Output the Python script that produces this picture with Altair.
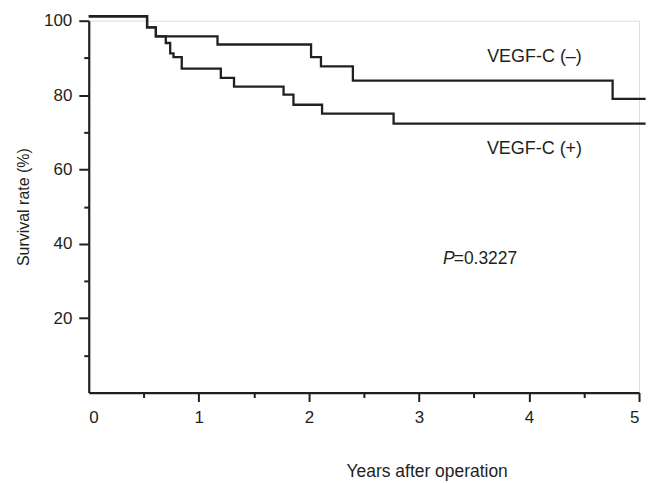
import altair as alt
import pandas as pd

# Kaplan-Meier style step data
t_neg = [0, 0.53, 0.61, 1.17, 2.02, 2.11, 2.40, 4.76, 5.06]
s_neg = [101.2, 98.2, 95.8, 93.6, 90.2, 87.7, 83.9, 79.0, 79.0]
t_pos = [0, 0.53, 0.61, 0.70, 0.74, 0.77, 0.845, 1.20, 1.32, 1.77, 1.86, 2.12, 2.77, 5.06]
s_pos = [101.2, 98.2, 95.8, 94.0, 91.2, 90.2, 87.1, 84.6, 82.3, 80.1, 77.4, 75.0, 72.3, 72.3]

x_major = [0, 1, 2, 3, 4, 5]
x_minor = [0.5, 1.5, 2.5, 3.5, 4.5]
y_major = [20, 40, 60, 80, 100]
y_minor = [10, 30, 50, 70, 90]

label_text = ["VEGF-C (–)", "VEGF-C (+)"]
label_x = [4.05, 4.05]
label_y = [90.2, 65.5]

p_x = [3.316]
p_y = [36.0]

FONT = "Liberation Sans"
INK = "#231f20"

curves = pd.DataFrame(
    {"t": t_neg + t_pos,
     "s": s_neg + s_pos,
     "g": ["neg"] * len(t_neg) + ["pos"] * len(t_pos)}
)
labels = pd.DataFrame({"text": label_text, "x": label_x, "y": label_y})
pdf = pd.DataFrame({"x": p_x, "y": p_y})

xscale = alt.Scale(domain=[0, 5], nice=False, zero=False)
yscale = alt.Scale(domain=[0, 100], nice=False, zero=False)

common_axis = dict(
    domainColor=INK, domainWidth=2.2, tickColor=INK, tickWidth=2,
    labelFont=FONT, labelFontSize=17, labelColor=INK,
    titleFont=FONT, titleColor=INK, titleFontWeight="normal",
    grid=False,
)

lines = alt.Chart(curves).mark_line(
    interpolate="step-after", color=INK, strokeWidth=2.3
).encode(
    x=alt.X("t:Q", scale=xscale, axis=alt.Axis(
        orient="bottom", values=x_major, tickSize=9, labelPadding=8,
        tickOpacity={"condition": {"test": "datum.value === 0", "value": 0}, "value": 1},
        title="Years after operation", titleFontSize=17.5,
        titleX=339, titleY=70, **common_axis)),
    y=alt.Y("s:Q", scale=yscale, axis=alt.Axis(
        orient="left", values=y_major, tickSize=10, labelPadding=7,
        title="Survival rate (%)", titleFontSize=16, titlePadding=12,
        **common_axis)),
    detail="g:N",
)

minor = alt.Chart(curves).mark_point(opacity=0).encode(
    x=alt.X("t:Q", scale=xscale, axis=alt.Axis(
        orient="bottom", values=x_minor, tickSize=5, labels=False,
        domain=False, title=None, tickColor=INK, tickWidth=2, grid=False)),
    y=alt.Y("s:Q", scale=yscale, axis=alt.Axis(
        orient="left", values=y_minor, tickSize=5, labels=False,
        domain=False, title=None, tickColor=INK, tickWidth=2, grid=False)),
)

text_layer = alt.Chart(labels).mark_text(
    font=FONT, fontSize=18, color=INK, align="center", baseline="middle"
).encode(
    x=alt.X("x:Q", scale=xscale, axis=None),
    y=alt.Y("y:Q", scale=yscale, axis=None),
    text="text:N",
)

p_italic = alt.Chart(pdf).mark_text(
    font=FONT, fontSize=17.5, color=INK, align="right", baseline="middle",
    fontStyle="italic", dx=1
).encode(
    x=alt.X("x:Q", scale=xscale, axis=None),
    y=alt.Y("y:Q", scale=yscale, axis=None),
    text=alt.value("P"),
)

p_rest = alt.Chart(pdf).mark_text(
    font=FONT, fontSize=17.5, color=INK, align="left", baseline="middle"
).encode(
    x=alt.X("x:Q", scale=xscale, axis=None),
    y=alt.Y("y:Q", scale=yscale, axis=None),
    text=alt.value("=0.3227"),
)

chart = alt.layer(lines, minor, text_layer, p_italic, p_rest).resolve_axis(
    x="independent", y="independent"
).properties(
    width=552, height=373,
    autosize=alt.AutoSizeParams(type="none"),
    padding={"left": 81, "top": 12, "right": 10, "bottom": 96},
).configure_view(stroke=None).configure(background="white")

chart.save("out.html", embed_options={"renderer": "svg", "actions": False})
